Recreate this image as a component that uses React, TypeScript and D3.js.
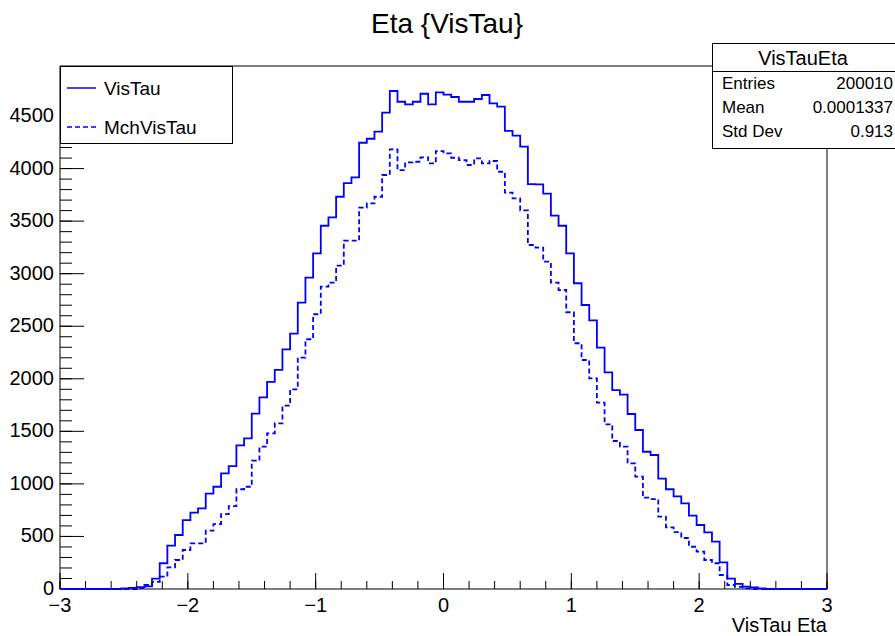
import React from "react";
import * as d3 from "d3";

// histogram contents, 100 bins from -3 to 3
const xMin = -3;
const xMax = 3;
const nBins = 100;

const visTau = [
  0, 0, 0, 0, 0, 0, 0, 0, 5, 10,
  18, 25, 98, 245, 412, 514, 656, 726, 768, 907,
  973, 1101, 1170, 1367, 1434, 1668, 1824, 1970, 2084, 2280,
  2429, 2724, 2962, 3194, 3456, 3536, 3732, 3862, 3917, 4246,
  4284, 4351, 4532, 4738, 4636, 4611, 4636, 4712, 4611, 4725,
  4703, 4681, 4636, 4636, 4662, 4700, 4621, 4589, 4358, 4313,
  4208, 3853, 3850, 3761, 3552, 3456, 3194, 2909, 2702, 2556,
  2296, 2062, 1893, 1850, 1665, 1513, 1306, 1275, 1050, 949,
  882, 815, 698, 609, 539, 450, 254, 98, 48, 22,
  15, 5, 0, 0, 0, 0, 0, 0, 0, 0,
];

const mchVisTau = [
  0, 0, 0, 0, 0, 0, 0, 0, 0, 0,
  8, 38, 67, 117, 206, 276, 371, 435, 435, 555,
  618, 713, 789, 949, 973, 1221, 1354, 1481, 1576, 1744,
  1900, 2201, 2376, 2614, 2877, 2915, 3076, 3314, 3314, 3628,
  3669, 3732, 3939, 4183, 3986, 4059, 4065, 4107, 4050, 4167,
  4145, 4103, 4081, 4034, 4097, 4050, 4072, 3970, 3772, 3717,
  3602, 3273, 3248, 3114, 2915, 2845, 2633, 2338, 2179, 2004,
  1773, 1567, 1408, 1354, 1196, 1069, 869, 856, 688, 587,
  542, 485, 402, 355, 276, 245, 133, 38, 20, 5,
  0, 0, 0, 0, 0, 0, 0, 0, 0, 0,
];

const xTickLabels = ["\u22123", "\u22122", "\u22121", "0", "1", "2", "3"];
const yTickValues = [0, 500, 1000, 1500, 2000, 2500, 3000, 3500, 4000, 4500];

const statsTitle = "VisTauEta";
const statsRows = [
  ["Entries", "200010"],
  ["Mean", "0.0001337"],
  ["Std Dev", "0.913"],
];

const W = 895;
const H = 636;
const left = 60;
const right = 827;
const top = 66;
const bottom = 589;
const yTop = 4976;
const font = "'Liberation Sans', Arial, Helvetica, sans-serif";

export default function App() {
  const x = d3.scaleLinear().domain([xMin, xMax]).range([left, right]);
  const y = d3.scaleLinear().domain([0, yTop]).range([bottom, top]);

  const binW = (xMax - xMin) / nBins;
  const stepPath = (vals: number[]) => {
    const pts: [number, number][] = vals.map((v, i) => [xMin + i * binW, v]);
    pts.push([xMax, vals[vals.length - 1]]);
    return d3
      .line<[number, number]>()
      .x((d) => x(d[0]))
      .y((d) => y(d[1]))
      .curve(d3.curveStepAfter)(pts) as string;
  };

  const xMajor = d3.range(xMin, xMax + 0.001, 1);
  const xMinor = d3.range(xMin, xMax + 0.001, 0.2);
  const yMinor = d3.range(0, yTop, 100);

  return (
    <svg width={W} height={H} style={{ position: "absolute", left: 0, top: 0 }} fontFamily={font}>
      <rect width={W} height={H} fill="white" />
      <text x={447} y={33} fontSize={28} textAnchor="middle">
        Eta {"{VisTau}"}
      </text>

      {/* frame */}
      <rect x={left} y={top} width={right - left} height={bottom - top} fill="none" stroke="black" strokeWidth={1} />

      {/* x ticks */}
      {xMinor.map((t, i) => (
        <line key={"xm" + i} x1={x(t)} x2={x(t)} y1={bottom} y2={bottom - 8} stroke="black" />
      ))}
      {xMajor.map((t, i) => (
        <g key={"xM" + i}>
          <line x1={x(t)} x2={x(t)} y1={bottom} y2={bottom - 16} stroke="black" />
          <text x={x(t)} y={612} fontSize={20} textAnchor="middle">
            {xTickLabels[i]}
          </text>
        </g>
      ))}

      {/* y ticks */}
      {yMinor.map((t, i) => (
        <line key={"ym" + i} x1={left} x2={left + 12} y1={y(t)} y2={y(t)} stroke="black" />
      ))}
      {yTickValues.map((t) => (
        <g key={"yM" + t}>
          <line x1={left} x2={left + 24} y1={y(t)} y2={y(t)} stroke="black" />
          <text x={54} y={y(t) + 6} fontSize={20} textAnchor="end">
            {t}
          </text>
        </g>
      ))}

      <text x={right} y={632} fontSize={20} textAnchor="end">
        VisTau Eta
      </text>

      {/* histograms */}
      <path d={stepPath(mchVisTau)} fill="none" stroke="#0000ff" strokeWidth={1.8} strokeDasharray="5,3" />
      <path d={stepPath(visTau)} fill="none" stroke="#0000ff" strokeWidth={1.8} />

      {/* legend */}
      <rect x={60.5} y={66.5} width={172} height={77} fill="white" stroke="black" />
      <line x1={67} x2={96} y1={88} y2={88} stroke="#0000ff" strokeWidth={1.5} />
      <text x={104} y={95} fontSize={19}>VisTau</text>
      <line x1={67} x2={96} y1={127} y2={127} stroke="#0000ff" strokeWidth={1.5} strokeDasharray="5,3" />
      <text x={104} y={134} fontSize={19}>MchVisTau</text>

      {/* stats box */}
      <rect x={712.5} y={43.5} width={200} height={105} fill="white" stroke="black" />
      <line x1={712.5} x2={900} y1={71.5} y2={71.5} stroke="black" />
      <text x={803} y={65} fontSize={20} textAnchor="middle">
        {statsTitle}
      </text>
      {statsRows.map((r, i) => (
        <g key={r[0]}>
          <text x={722} y={89 + i * 24} fontSize={17}>
            {r[0]}
          </text>
          <text x={893} y={89 + i * 24} fontSize={17} textAnchor="end">
            {r[1]}
          </text>
        </g>
      ))}
    </svg>
  );
}
